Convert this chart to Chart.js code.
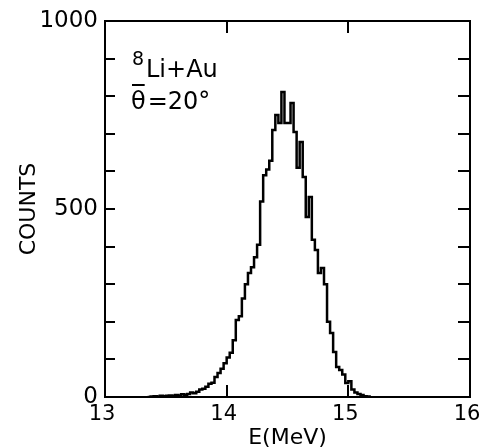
<!DOCTYPE html>
<html>
<head>
<meta charset="utf-8">
<script src="https://cdn.jsdelivr.net/npm/chart.js@4.4.0/dist/chart.umd.min.js"></script>
<style>
  html, body { margin: 0; padding: 0; background: #fff; }
  #wrap { width: 481px; height: 448px; }
</style>
</head>
<body>
<div id="wrap"><canvas id="spectrum"></canvas></div>
<script>
// left edge of each energy bin (MeV) and the counts in it
const energies = [
  13.350, 13.375, 13.400, 13.425, 13.450, 13.475, 13.500, 13.525, 13.550, 13.575,
  13.600, 13.625, 13.650, 13.675, 13.700, 13.725, 13.750, 13.775, 13.800, 13.825,
  13.850, 13.875, 13.900, 13.925, 13.950, 13.975, 14.000, 14.025, 14.050, 14.075,
  14.100, 14.125, 14.150, 14.175, 14.200, 14.225, 14.250, 14.275, 14.300, 14.325,
  14.350, 14.375, 14.400, 14.425, 14.450, 14.475, 14.500, 14.525, 14.550, 14.575,
  14.600, 14.625, 14.650, 14.675, 14.700, 14.725, 14.750, 14.775, 14.800, 14.825,
  14.850, 14.875, 14.900, 14.925, 14.950, 14.975, 15.000, 15.025, 15.050, 15.075,
  15.100, 15.125, 15.150, 15.175
];
const counts = [
  0, 1, 2, 1, 3, 2, 3, 4, 3, 5,
  4, 7, 6, 8, 12, 10, 14, 20, 22, 27,
  35, 38, 53, 64, 75, 90, 105, 118, 151, 205,
  215, 262, 300, 330, 345, 372, 405, 520, 590, 605,
  628, 710, 750, 729, 811, 729, 729, 782, 705, 610,
  678, 585, 479, 532, 418, 391, 330, 343, 300, 200,
  170, 120, 80, 72, 60, 37, 42, 20, 12, 8,
  5, 2, 1, 0
];

const xTickLabels = [13, 14, 15, 16];
const xInnerTicks = [14, 15];
const yTickLabels = [0, 500, 1000];
const yInnerTicks = [100, 200, 300, 400, 500, 600, 700, 800, 900];

const FONT = 'DejaVu Sans';

// tick marks pointing into the frame, on all four sides
const innerTicks = {
  id: 'innerTicks',
  afterDraw(chart) {
    const { ctx, chartArea: a, scales } = chart;
    ctx.save();
    ctx.strokeStyle = '#000';
    ctx.lineWidth = 2;
    ctx.beginPath();
    yInnerTicks.forEach(v => {
      const py = Math.round(scales.y.getPixelForValue(v));
      ctx.moveTo(a.left, py); ctx.lineTo(a.left + 10, py);
      ctx.moveTo(a.right, py); ctx.lineTo(a.right - 12, py);
    });
    xInnerTicks.forEach(v => {
      const px = Math.round(scales.x.getPixelForValue(v));
      ctx.moveTo(px, a.bottom); ctx.lineTo(px, a.bottom - 12);
      ctx.moveTo(px, a.top); ctx.lineTo(px, a.top + 12);
    });
    ctx.stroke();
    ctx.restore();
  }
};

// reaction label in the upper left
const reactionLabel = {
  id: 'reactionLabel',
  afterDraw(chart) {
    const { ctx, chartArea: a } = chart;
    const x0 = a.left + 26;
    ctx.save();
    ctx.fillStyle = '#000';
    ctx.strokeStyle = '#000';
    ctx.textBaseline = 'alphabetic';
    ctx.textAlign = 'left';
    ctx.font = `19px "${FONT}"`;
    ctx.fillText('8', x0 + 1, a.top + 44);
    ctx.font = `24px "${FONT}"`;
    ctx.fillText('Li+Au', x0 + 15, a.top + 56);
    ctx.fillText('θ', x0, a.top + 88);
    const tw = ctx.measureText('θ').width;
    ctx.lineWidth = 2;
    ctx.beginPath();
    ctx.moveTo(x0 + 1, a.top + 64);
    ctx.lineTo(x0 + tw - 1, a.top + 64);
    ctx.stroke();
    ctx.fillText('=20°', x0 + tw + 2, a.top + 88);
    ctx.restore();
  }
};

const ctx = document.getElementById('spectrum');

new Chart(ctx, {
  type: 'line',
  data: {
    datasets: [{
      data: energies.map((e, i) => ({ x: e, y: counts[i] })),
      stepped: true,
      borderColor: '#000',
      borderWidth: 2.5,
      pointRadius: 0,
      fill: false
    }]
  },
  options: {
    responsive: true,
    maintainAspectRatio: false,
    animation: false,
    layout: { padding: 0 },
    plugins: {
      legend: { display: false },
      tooltip: { enabled: false }
    },
    scales: {
      x: {
        type: 'linear',
        position: 'bottom',
        min: 13,
        max: 16,
        afterBuildTicks: s => { s.ticks = xTickLabels.map(v => ({ value: v })); },
        afterFit: s => { s.height = 51; s.paddingLeft = 0; s.paddingRight = 0; },
        ticks: {
          color: '#000',
          font: { family: FONT, size: 21 },
          padding: 5,
          labelOffset: -3,
          maxRotation: 0,
          autoSkip: false,
          callback: v => String(v)
        },
        grid: { display: false, drawTicks: false },
        border: { color: '#000', width: 2 },
        title: {
          display: true,
          text: 'E(MeV)',
          color: '#000',
          font: { family: FONT, size: 22 },
          padding: { top: 0, bottom: -3 }
        }
      },
      y: {
        type: 'linear',
        position: 'left',
        min: 0,
        max: 1000,
        afterBuildTicks: s => { s.ticks = yTickLabels.map(v => ({ value: v })); },
        afterFit: s => { s.width = 105; s.paddingTop = 0; s.paddingBottom = 0; },
        ticks: {
          color: '#000',
          font: { family: FONT, size: 23 },
          padding: 7,
          autoSkip: false,
          callback: v => String(v)
        },
        grid: { display: false, drawTicks: false },
        border: { color: '#000', width: 2 },
        title: {
          display: true,
          text: 'COUNTS',
          color: '#000',
          font: { family: FONT, size: 22 },
          padding: { top: 16, bottom: 0 }
        }
      },
      x2: {
        type: 'linear',
        position: 'top',
        min: 13,
        max: 16,
        afterFit: s => { s.height = 21; },
        ticks: { display: false },
        grid: { display: false, drawTicks: false },
        border: { color: '#000', width: 2 }
      },
      y2: {
        type: 'linear',
        position: 'right',
        min: 0,
        max: 1000,
        afterFit: s => { s.width = 11; },
        ticks: { display: false },
        grid: { display: false, drawTicks: false },
        border: { color: '#000', width: 2 }
      }
    }
  },
  plugins: [innerTicks, reactionLabel]
});
</script>
</body>
</html>
